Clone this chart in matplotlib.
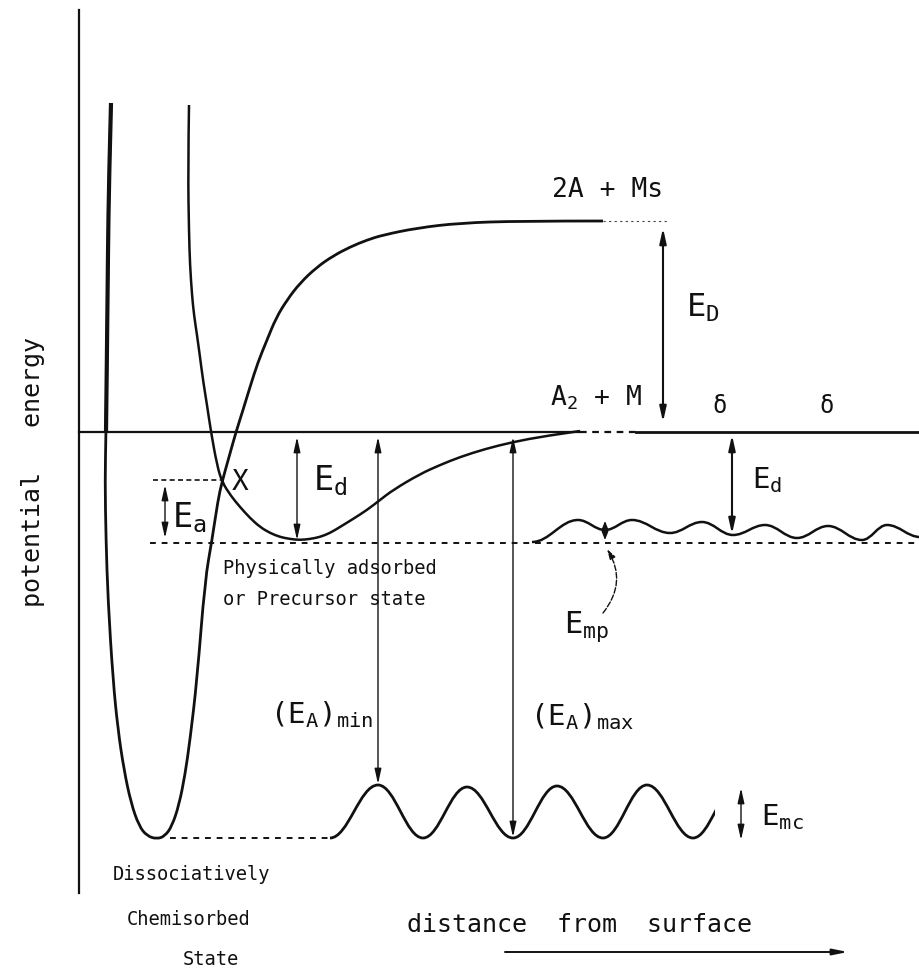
import matplotlib
matplotlib.use("Agg")
import matplotlib.pyplot as plt
from matplotlib.path import Path
from matplotlib.patches import PathPatch, Rectangle

# --- curve points (pixel coords, y downwards) ---
chem_x = [111, 109, 108, 107, 106, 105, 106, 108, 113, 118, 124, 131, 139, 147, 157,
          165, 172, 179, 185, 190, 197, 205, 212, 218, 222, 229, 236, 243, 250, 258,
          267, 276, 287, 300, 317, 333, 350, 367, 383, 417, 460, 520, 603]
chem_y = [103, 180, 250, 350, 432, 480, 540, 600, 680, 730, 770, 803, 826, 836, 839,
          836, 826, 805, 775, 740, 680, 580, 540, 500, 482, 457, 432, 410, 387, 362,
          340, 318, 300, 283, 267, 256, 247, 240, 235, 228, 223, 221, 221]

phys_x = [189, 188, 189, 190, 192, 194, 197, 200, 203, 207, 211, 217, 222, 231, 240,
          250, 260, 270, 280, 290, 300, 310, 320, 330, 340, 353, 367, 380, 393, 420,
          440, 460, 485, 513, 545, 580]
phys_y = [105, 170, 233, 265, 295, 315, 335, 357, 380, 405, 432, 465, 482, 496, 507,
          518, 527, 533, 537, 539, 540, 539, 537, 533, 527, 519, 510, 500, 490, 474,
          465, 457, 449, 442, 436, 431]

# peaks and troughs of the chemisorbed-state corrugation
low_wave_x = [330, 378, 423, 467, 513, 557, 603, 647, 693, 737]
low_wave_y = [838, 785, 838, 787, 838, 786, 838, 785, 838, 786]
low_wave_end = 715

# peaks and troughs of the precursor-state corrugation
up_wave_x = [532, 578, 605, 632, 670, 702, 733, 765, 797, 828, 862, 887, 920]
up_wave_y = [542, 520, 530, 520, 533, 522, 535, 525, 538, 526, 540, 525, 537]

# levels
zero_level = 432
diss_level = 221
ea_level = 480
phys_level = 543
chem_level = 838

# energy arrows: x, y_top, y_bottom
arrows = {
    "ED": (663, 228, 422),
    "Ea": (165, 485, 538),
    "Ed_left": (297, 437, 540),
    "EAmin": (378, 437, 784),
    "EAmax": (513, 437, 837),
    "Ed_right": (732, 435, 534),
    "Emc": (741, 788, 840),
    "Emp": (605, 521, 540),
}

plt.rcParams["font.family"] = "DejaVu Sans Mono"
plt.rcParams["mathtext.fontset"] = "custom"
plt.rcParams["mathtext.rm"] = "DejaVu Sans Mono"
plt.rcParams["mathtext.it"] = "DejaVu Sans Mono"

fig = plt.figure(figsize=(9.2, 9.68), dpi=100)
ax = fig.add_axes([0, 0, 1, 1])
ax.set_xlim(0, 920)
ax.set_ylim(968, 0)
ax.axis("off")

K = "#111111"


def smooth_path(xs, ys):
    # quadratic bezier chain through midpoints, points act as control points
    pts = list(zip(xs, ys))
    verts = [pts[0]]
    codes = [Path.MOVETO]
    for i in range(1, len(pts) - 1):
        mid = ((pts[i][0] + pts[i + 1][0]) / 2, (pts[i][1] + pts[i + 1][1]) / 2)
        if i == len(pts) - 2:
            mid = pts[-1]
        verts += [pts[i], mid]
        codes += [Path.CURVE3, Path.CURVE3]
    return Path(verts, codes)


def wave_path(xs, ys, k=0.38):
    # smooth curve through extrema with flat tangents (cubic bezier)
    verts = [(xs[0], ys[0])]
    codes = [Path.MOVETO]
    for i in range(len(xs) - 1):
        dx = xs[i + 1] - xs[i]
        verts += [(xs[i] + k * dx, ys[i]), (xs[i + 1] - k * dx, ys[i + 1]), (xs[i + 1], ys[i + 1])]
        codes += [Path.CURVE4] * 3
    return Path(verts, codes)


# axis line
ax.plot([79, 79], [10, 893], color=K, lw=1.6)

# zero line with short dashed gap
ax.plot([79, 580], [zero_level, zero_level], color=K, lw=1.6)
ax.plot([580, 636], [zero_level, zero_level], color=K, lw=1.6, ls=(0, (3, 2.5)))
ax.plot([636, 920], [zero_level, zero_level], color=K, lw=2.0)

# potential curves
ax.add_patch(PathPatch(smooth_path(chem_x, chem_y), fill=False, ec=K, lw=2.0))
ax.add_patch(PathPatch(smooth_path(chem_x[:5], chem_y[:5]), fill=False, ec=K, lw=3.0))
ax.add_patch(PathPatch(smooth_path(phys_x, phys_y), fill=False, ec=K, lw=1.8))

# dashed reference levels
ax.plot([603, 667], [diss_level, diss_level], color="#444444", lw=0.8, ls=(0, (2, 3)))
ax.plot([153, 222], [ea_level, ea_level], color=K, lw=1.2, ls=(0, (3, 2)))
ax.plot([150, 920], [phys_level, phys_level], color=K, lw=1.4, ls=(0, (3, 3)))
ax.plot([170, 330], [chem_level, chem_level], color=K, lw=1.4, ls=(0, (3, 3)))

# corrugations
lw_patch = PathPatch(wave_path(low_wave_x, low_wave_y), fill=False, ec=K, lw=2.0)
ax.add_patch(lw_patch)
lw_patch.set_clip_path(Rectangle((0, 0), low_wave_end, 968, transform=ax.transData))
ax.add_patch(PathPatch(wave_path(up_wave_x, up_wave_y), fill=False, ec=K, lw=1.8))

# energy arrows
for key, (x, y0, y1) in arrows.items():
    lw = 1.5 if key in ("ED", "Ed_right") else 1.0
    hl = 0.5 if key == "Emp" else 0.9
    ax.annotate("", xy=(x, y0), xytext=(x, y1),
                arrowprops=dict(arrowstyle=f"<|-|>,head_length={hl},head_width=0.2",
                                color=K, lw=lw, shrinkA=0, shrinkB=0))

# Emp leader
ax.annotate("", xy=(607, 549), xytext=(603, 613),
            arrowprops=dict(arrowstyle="-|>,head_length=0.6,head_width=0.18", color=K,
                            lw=1.0, shrinkA=0, shrinkB=0,
                            connectionstyle="arc3,rad=0.35", ls=(0, (4, 1.5))))

# distance arrow
ax.annotate("", xy=(848, 952), xytext=(505, 952),
            arrowprops=dict(arrowstyle="-|>,head_length=0.9,head_width=0.18", color=K,
                            lw=1.4, shrinkA=0, shrinkB=0))

# labels
ax.text(33, 472, "potential   energy", rotation=90, ha="center", va="center",
        fontsize=18, color=K)
ax.text(552, 197, "2A + Ms", fontsize=19, color=K, va="baseline")
ax.text(550, 405, r"A$_{2}$ + M", fontsize=19, color=K, va="baseline")
ax.text(686, 317, r"$\mathrm{E_{D}}$", fontsize=23, color=K, va="baseline")
ax.text(712, 413, "δ", fontsize=17, color=K, va="baseline")
ax.text(819, 413, "δ", fontsize=17, color=K, va="baseline")
ax.text(232, 490, "X", fontsize=20, color=K, va="baseline")
ax.text(172, 527, r"$\mathrm{E_{a}}$", fontsize=24, color=K, va="baseline")
ax.text(313, 490, r"$\mathrm{E_{d}}$", fontsize=24, color=K, va="baseline")
ax.text(752, 488, r"$\mathrm{E_{d}}$", fontsize=21, color=K, va="baseline")
ax.text(223, 574, "Physically adsorbed", fontsize=13.5, color=K, va="baseline")
ax.text(223, 605, "or Precursor state", fontsize=13.5, color=K, va="baseline")
ax.text(564, 633, r"$\mathrm{E_{mp}}$", fontsize=22, color=K, va="baseline")
ax.text(270, 723, r"$\mathrm{(E_{A})_{min}}$", fontsize=21, color=K, va="baseline")
ax.text(530, 725, r"$\mathrm{(E_{A})_{max}}$", fontsize=21, color=K, va="baseline")
ax.text(761, 825, r"$\mathrm{E_{mc}}$", fontsize=21, color=K, va="baseline")
ax.text(113, 880, "Dissociatively", fontsize=13.5, color=K, va="baseline")
ax.text(127, 925, "Chemisorbed", fontsize=13.5, color=K, va="baseline")
ax.text(183, 965, "State", fontsize=13.5, color=K, va="baseline")
ax.text(407, 932, "distance  from  surface", fontsize=18, color=K, va="baseline")

fig.savefig("out.png", dpi=100, facecolor="white")
